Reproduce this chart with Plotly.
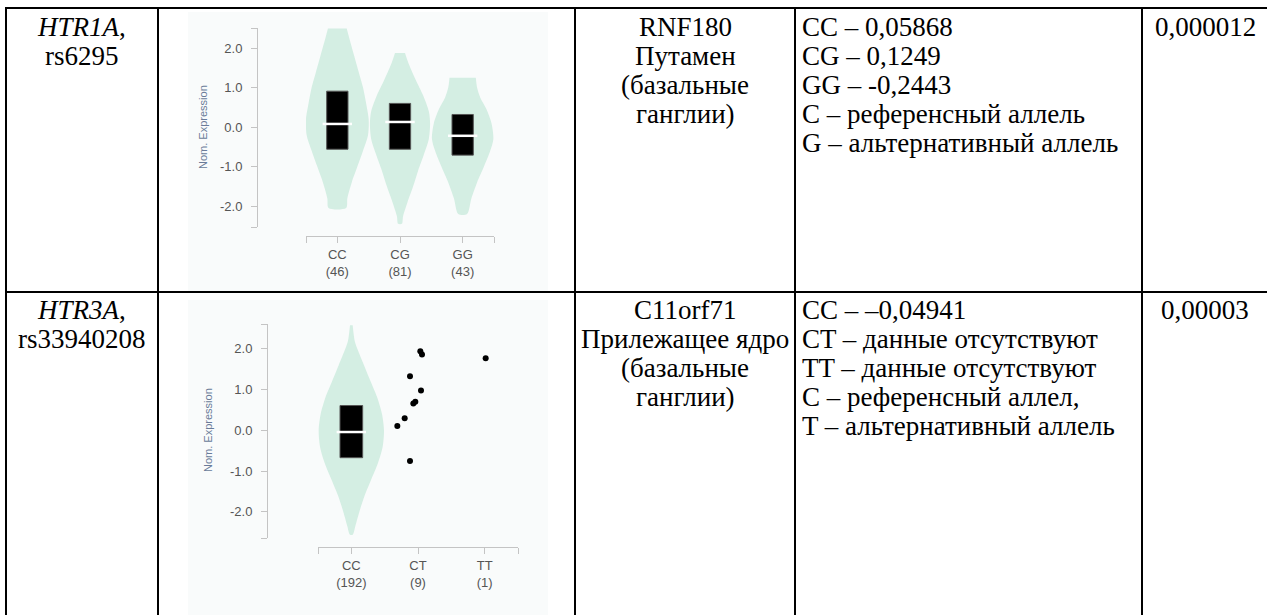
import plotly.graph_objects as go

W, H = 1267, 615

# ---------------- table text ----------------
row1_gene = ["<i>HTR1A</i>,", "rs6295"]
row2_gene = ["<i>HTR3A</i>,", "rs33940208"]
row1_tissue = ["RNF180", "Путамен", "(базальные", "ганглии)"]
row2_tissue = ["C11orf71", "Прилежащее ядро", "(базальные", "ганглии)"]
row1_effect = ["CC – 0,05868", "CG – 0,1249", "GG – -0,2443",
               "C – референсный аллель", "G – альтернативный аллель"]
row2_effect = ["CC – –0,04941", "CT – данные отсутствуют", "TT – данные отсутствуют",
               "C – референсный аллел,", "T – альтернативный аллель"]
row1_p = ["0,000012"]
row2_p = ["0,00003"]

# ---------------- plot 1 (HTR1A rs6295) ----------------
geno1 = ["CC", "CG", "GG"]
n1 = [46, 81, 43]
box_q1_1 = [-0.56, -0.56, -0.71]
box_q3_1 = [0.91, 0.60, 0.32]
median_1 = [0.08, 0.13, -0.22]
# violin outlines (level, half-width in category units)
vio1_levels = [
    [2.50, 2.20, 1.80, 1.40, 1.00, 0.60, 0.20, -0.20, -0.60, -1.00, -1.40, -1.80, -2.05],
    [1.88, 1.60, 1.20, 0.80, 0.40, 0.10, -0.30, -0.70, -1.10, -1.50, -1.90, -2.25, -2.45],
    [1.25, 1.00, 0.75, 0.45, 0.10, -0.30, -0.60, -1.00, -1.40, -1.80, -2.20],
]
vio1_width = [
    [0.15, 0.20, 0.27, 0.34, 0.41, 0.46, 0.50, 0.49, 0.41, 0.32, 0.23, 0.16, 0.14],
    [0.08, 0.14, 0.25, 0.37, 0.46, 0.48, 0.46, 0.38, 0.29, 0.21, 0.12, 0.05, 0.03],
    [0.21, 0.23, 0.28, 0.38, 0.46, 0.49, 0.44, 0.34, 0.23, 0.14, 0.07],
]
yticks = [-2.0, -1.0, 0.0, 1.0, 2.0]
y1_range = [-2.53, 2.51]

# ---------------- plot 2 (HTR3A rs33940208) ----------------
geno2 = ["CC", "CT", "TT"]
n2 = [192, 9, 1]
box_q1_2 = [-0.67]
box_q3_2 = [0.61]
median_2 = [-0.04]
vio2_levels = [[2.58, 2.20, 2.00, 1.60, 1.20, 0.80, 0.40, 0.00, -0.40, -0.80, -1.20, -1.60, -2.00, -2.35, -2.56]]
vio2_width = [[0.02, 0.05, 0.09, 0.19, 0.29, 0.39, 0.46, 0.49, 0.47, 0.40, 0.30, 0.20, 0.12, 0.06, 0.02]]
ct_values = [0.11, 0.30, 1.33, -0.75, 0.66, 0.70, 0.98, 1.94, 1.86]
ct_jitter = [-0.31, -0.20, -0.12, -0.12, -0.07, -0.04, 0.045, 0.035, 0.06]
tt_values = [1.77]
tt_jitter = [0.015]
y2_range = [-2.64, 2.61]

VIOLIN = "#d4eee3"
AXIS = "#c4c4c4"
TICKFONT = dict(family="Liberation Sans", size=13, color="#555555")
BOX_W = 0.34


def px(x):
    return x / W


def py(y):
    return 1 - y / H


fig = go.Figure()


def add_violins(levels, widths, xa, ya):
    for i, (lv, wd) in enumerate(zip(levels, widths)):
        xs = [i + w for w in wd] + [i - w for w in reversed(wd)]
        ys = list(lv) + list(reversed(lv))
        fig.add_trace(go.Scatter(x=xs, y=ys, fill="toself", fillcolor=VIOLIN,
                                 mode="lines", line=dict(width=0, color=VIOLIN, shape="spline", smoothing=0.8),
                                 hoverinfo="skip", showlegend=False, xaxis=xa, yaxis=ya))


def add_boxes(q1, q3, med, xa, ya):
    for i, (a, b) in enumerate(zip(q1, q3)):
        h = BOX_W / 2
        fig.add_trace(go.Scatter(x=[i - h, i + h, i + h, i - h, i - h], y=[a, a, b, b, a],
                                 fill="toself", fillcolor="black", mode="lines",
                                 line=dict(color="#555555", width=1),
                                 hoverinfo="skip", showlegend=False, xaxis=xa, yaxis=ya))
    fig.add_trace(go.Scatter(x=list(range(len(med))), y=med, mode="markers",
                             marker=dict(symbol="line-ew", size=21, color="white",
                                         line=dict(color="white", width=2.5)),
                             hoverinfo="skip", showlegend=False, xaxis=xa, yaxis=ya))


add_violins(vio1_levels, vio1_width, "x", "y")
add_boxes(box_q1_1, box_q3_1, median_1, "x", "y")

add_violins(vio2_levels, vio2_width, "x2", "y2")
add_boxes(box_q1_2, box_q3_2, median_2, "x2", "y2")
fig.add_trace(go.Scatter(x=[1 + j for j in ct_jitter], y=ct_values, mode="markers",
                         marker=dict(color="black", size=6), hoverinfo="skip",
                         showlegend=False, xaxis="x2", yaxis="y2"))
fig.add_trace(go.Scatter(x=[2 + j for j in tt_jitter], y=tt_values, mode="markers",
                         marker=dict(color="black", size=6), hoverinfo="skip",
                         showlegend=False, xaxis="x2", yaxis="y2"))


def xaxis_cfg(dom, pos, geno, counts):
    return dict(domain=[px(dom[0]), px(dom[1])], range=[-0.5, 2.5], anchor="free", position=py(pos),
                showline=True, linecolor=AXIS, linewidth=1, ticks="outside", ticklen=6,
                tickcolor=AXIS, tickwidth=1,
                tickvals=[-0.5] + list(range(len(geno))) + [2.5],
                ticktext=[""] + [f"{g}<br>({n})" for g, n in zip(geno, counts)] + [""],
                showgrid=False, zeroline=False, tickfont=TICKFONT, tickangle=0)


def yaxis_cfg(dom, pos, rng):
    return dict(domain=[py(dom[1]), py(dom[0])], range=rng, anchor="free", position=px(pos),
                showline=True, linecolor=AXIS, linewidth=1, ticks="outside", ticklen=6,
                tickcolor=AXIS, tickwidth=1, ticklabelstandoff=6,
                tickvals=[rng[0]] + yticks + [rng[1]],
                ticktext=[""] + [f"{v:.1f}" for v in yticks] + [""],
                showgrid=False, zeroline=False, tickfont=TICKFONT)


fig.update_layout(
    width=W, height=H, margin=dict(l=0, r=0, t=0, b=0),
    paper_bgcolor="white", plot_bgcolor="rgba(0,0,0,0)", showlegend=False,
    xaxis=xaxis_cfg((306, 494), 236, geno1, n1),
    yaxis=yaxis_cfg((28, 227), 257, y1_range),
    xaxis2=xaxis_cfg((318, 518), 547, geno2, n2),
    yaxis2=yaxis_cfg((324, 538), 267, y2_range),
)

shapes = []
# embedded picture backgrounds
for (x0, y0, x1, y1) in [(188, 12, 548, 291), (188, 300, 548, 615)]:
    shapes.append(dict(type="rect", xref="paper", yref="paper", x0=px(x0), x1=px(x1),
                       y0=py(y1), y1=py(y0), fillcolor="#f9fbfb", line=dict(width=0), layer="below"))
# table grid (the table continues past the right and bottom edges of the picture)
for xv in [6, 158, 575, 795, 1142]:
    shapes.append(dict(type="line", xref="paper", yref="paper", x0=px(xv), x1=px(xv),
                       y0=py(615), y1=py(7), line=dict(color="black", width=2)))
for yv in [8, 292]:
    shapes.append(dict(type="line", xref="paper", yref="paper", x0=px(5), x1=px(1267),
                       y0=py(yv), y1=py(yv), line=dict(color="black", width=2)))
fig.update_layout(shapes=shapes)

ann = []
SERIF = dict(family="Liberation Serif", size=27, color="black")
LINE = 29


def lines(texts, x, y0, anchor):
    for k, t in enumerate(texts):
        ann.append(dict(text=t, x=px(x), y=py(y0 + k * LINE), xref="paper", yref="paper",
                        xanchor=anchor, yanchor="middle", showarrow=False, font=SERIF))


for top, gene, tis, eff, p in [(27, row1_gene, row1_tissue, row1_effect, row1_p),
                               (310, row2_gene, row2_tissue, row2_effect, row2_p)]:
    lines(gene, 82, top, "center")
    lines(tis, 685, top, "center")
    lines(eff, 800, top, "left")
    lines(p, 1205, top, "center")

# y-axis titles of the embedded pictures
for xc, yc in [(203, 127), (208, 430)]:
    ann.append(dict(text="Nom. Expression", x=px(xc), y=py(yc), xref="paper", yref="paper",
                    textangle=-90, showarrow=False, xanchor="center", yanchor="middle",
                    font=dict(family="Liberation Sans", size=11, color="#6a7b99")))

fig.update_layout(annotations=ann)

fig.write_html("out.html", config={"displayModeBar": False},
               post_script="document.body.style.margin='0px';")
